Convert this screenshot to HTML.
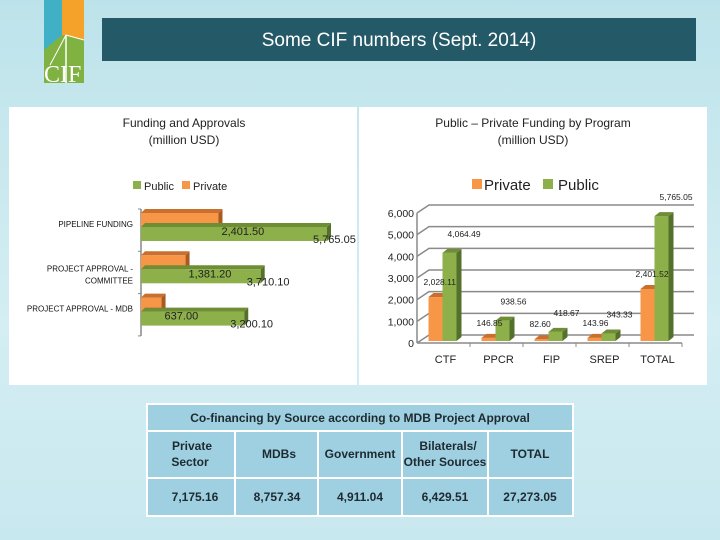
<!DOCTYPE html>
<html><head><meta charset="utf-8"><style>
html,body{margin:0;padding:0;width:720px;height:540px;overflow:hidden;font-family:"Liberation Sans",sans-serif;}
body{background:linear-gradient(#bde3ea,#d4eef3 60%,#c8e8ef);}
</style></head><body>
<svg id="s" width="720" height="540" xmlns="http://www.w3.org/2000/svg" style="position:absolute;left:0;top:0">
<g>
<rect x="44" y="0" width="40" height="83" fill="#7fb240"/>
<polygon points="44,0 62,0 62,35 44,50" fill="#3fb0c6"/>
<polygon points="62,0 84,0 84,40 62,35" fill="#f4a22a"/>
<line x1="66" y1="35" x2="66" y2="83" stroke="#fff" stroke-width="1.5"/>
<line x1="66" y1="35" x2="50" y2="65" stroke="#fff" stroke-width="1"/>
<line x1="66" y1="35" x2="84" y2="40" stroke="#fff" stroke-width="1"/>
<text x="44" y="82" font-family="Liberation Serif" font-size="24" fill="#fff">CIF</text>
</g>
<rect x="102" y="18" width="594" height="43" fill="#245a68"/>
<text x="399" y="46" text-anchor="middle" font-size="19" fill="#fff">Some CIF numbers (Sept. 2014)</text>
<rect x="9" y="107" width="348" height="278" fill="#fff"/>
<rect x="359" y="107" width="348" height="278" fill="#fff"/>
<text x="184" y="127" text-anchor="middle" font-size="12" fill="#222"><tspan x="184">Funding and Approvals</tspan><tspan x="184" dy="17">(million USD)</tspan></text>
<text x="533" y="127" text-anchor="middle" font-size="12" fill="#222"><tspan x="533">Public – Private Funding by Program</tspan><tspan x="533" dy="17">(million USD)</tspan></text>
<g>
<rect x="133" y="181" width="8" height="8" fill="#8db04a"/><text x="144" y="190" font-size="11" fill="#222">Public</text>
<rect x="182" y="181" width="8" height="8" fill="#f79646"/><text x="193" y="190" font-size="11" fill="#222">Private</text>
</g>
<g>
<rect x="472" y="179" width="10" height="10" fill="#f79646"/><text x="484" y="190" font-size="15" fill="#222">Private</text>
<rect x="543" y="179" width="10" height="10" fill="#8db04a"/><text x="558" y="190" font-size="15" fill="#222">Public</text>
</g>
<g id="left"></g>
<g id="right"></g>
<g>
<rect x="147" y="404" width="426" height="112" fill="#9fd0e1" stroke="#fff" stroke-width="2"/>
<line x1="147" y1="431" x2="573" y2="431" stroke="#fff" stroke-width="2"/>
<line x1="147" y1="478" x2="573" y2="478" stroke="#fff" stroke-width="2"/>
<line x1="235" y1="431" x2="235" y2="516" stroke="#fff" stroke-width="2"/>
<line x1="318" y1="431" x2="318" y2="516" stroke="#fff" stroke-width="2"/>
<line x1="402" y1="431" x2="402" y2="516" stroke="#fff" stroke-width="2"/>
<line x1="488" y1="431" x2="488" y2="516" stroke="#fff" stroke-width="2"/>
<g font-size="12" font-weight="bold" fill="#1e2a30" text-anchor="middle">
<text x="360" y="422">Co-financing by Source according to MDB Project Approval</text>
<text x="192" y="450"><tspan x="192">Private</tspan><tspan x="190" dy="16">Sector</tspan></text>
<text x="279" y="458">MDBs</text>
<text x="360" y="458">Government</text>
<text x="445" y="450"><tspan x="448">Bilaterals/</tspan><tspan x="445" dy="16">Other Sources</tspan></text>
<text x="530" y="458">TOTAL</text>
<text x="195" y="501">7,175.16</text>
<text x="277" y="501">8,757.34</text>
<text x="360" y="501">4,911.04</text>
<text x="445" y="501">6,429.51</text>
<text x="530" y="501">27,273.05</text>
</g>
</g>
</svg>
<script>
const NS="http://www.w3.org/2000/svg";
const leftCats=["PIPELINE FUNDING","PROJECT APPROVAL -|COMMITTEE","PROJECT APPROVAL - MDB"];
const leftPrivate=[2401.50,1381.20,637.00];
const leftPublic=[5765.05,3710.10,3200.10];
const leftPrivateLbl=["2,401.50","1,381.20","637.00"];
const leftPublicLbl=["5,765.05","3,710.10","3,200.10"];
const rightCats=["CTF","PPCR","FIP","SREP","TOTAL"];
const rightPrivate=[2028.11,146.85,82.60,143.96,2401.52];
const rightPublic=[4064.49,938.56,418.67,343.33,5765.05];
const rightPrivateLbl=["2,028.11","146.85","82.60","143.96","2,401.52"];
const rightPublicLbl=["4,064.49","938.56","418.67","343.33","5,765.05"];
const rightTicks=[0,1000,2000,3000,4000,5000,6000];
const rightTickLbl=["0","1,000","2,000","3,000","4,000","5,000","6,000"];
function mk(p,t,a){const e=document.createElementNS(NS,t);for(const k in a)e.setAttribute(k,a[k]);p.appendChild(e);return e;}
function bar3d(p,x,y,w,h,dx,dy,front,side,top){
 mk(p,"rect",{x:x,y:y,width:w,height:h,fill:front});
 mk(p,"polygon",{points:`${x+w},${y} ${x+w+dx},${y-dy} ${x+w+dx},${y+h-dy} ${x+w},${y+h}`,fill:side});
 mk(p,"polygon",{points:`${x},${y} ${x+dx},${y-dy} ${x+w+dx},${y-dy} ${x+w},${y}`,fill:top});
}
// left chart
const L=document.getElementById("left");
const lx0=141, lscale=(327-141)/5765.05, ltop=209, lband=42.3;
const lx=v=>lx0+v*lscale;
mk(L,"line",{x1:lx0,y1:ltop,x2:lx0,y2:ltop+3*lband,stroke:"#888","stroke-width":1.5});
leftCats.forEach((c,i)=>{
 const g0=ltop+i*lband;
 const tk=mk(L,"line",{x1:lx0-3,y1:g0,x2:lx0,y2:g0,stroke:"#888"});
 const g=mk(L,"g",{});
 
 
 bar3d(g,lx0,g0+4,lx(leftPrivate[i])-lx0,14,4,4,"#f79646","#a85a22","#c9702e");
 bar3d(g,lx0,g0+18,lx(leftPublic[i])-lx0,14,4,4,"#8db04a","#55702a","#6f8d35");
 const parts=c.split("|");
 const t=mk(L,"text",{x:lx0-8,y:g0+(parts.length>1?20:18),"text-anchor":"end","font-size":"8",fill:"#111"});
 
 
 parts.forEach((s,j)=>{const ts=mk(t,"tspan",{x:lx0-8,dy:j?12:0});ts.textContent=s;});
 const a=mk(L,"text",{x:lx(leftPrivate[i])+3,y:g0+26,"font-size":"11",fill:"#222"});a.textContent=leftPrivateLbl[i];
 
 
 const b=mk(L,"text",{x:lx(leftPublic[i])-14,y:g0+34,"font-size":"11",fill:"#222"});b.textContent=leftPublicLbl[i];
 
 
});
mk(L,"line",{x1:lx0-3,y1:ltop+3*lband,x2:lx0,y2:ltop+3*lband,stroke:"#888"});
// right chart
const R=document.getElementById("right");
const ry0=343, rscale=130/6000, rx0=417, rx1=682, rdx=12, rdy=8;
const ry=v=>ry0-v*rscale;
const band=(rx1-rx0)/rightCats.length;
const rcx=i=>rx0+band*(i+0.5);
rightTicks.forEach((t,i)=>{
 mk(R,"polyline",{points:`${rx0},${ry(t)} ${rx0+rdx},${ry(t)-rdy} ${rx1+rdx},${ry(t)-rdy}`,fill:"none",stroke:"#8a8a8a","stroke-width":1.5});
 const l=mk(R,"text",{x:rx0-3,y:ry(t)+4,"text-anchor":"end","font-size":"10.5",fill:"#222"});l.textContent=rightTickLbl[i];
 
 
});
mk(R,"line",{x1:rx0,y1:ry0,x2:rx0,y2:ry(6000),stroke:"#8a8a8a","stroke-width":1.5});
mk(R,"line",{x1:rx0,y1:ry0,x2:rx1,y2:ry0,stroke:"#8a8a8a","stroke-width":1.5});
rightCats.forEach((c,i)=>{
 const cx=rcx(i);
 mk(R,"line",{x1:rx0+band*(i+1),y1:ry0,x2:rx0+band*(i+1),y2:ry0+4,stroke:"#8a8a8a"});
 const g=mk(R,"g",{});
 
 
 const bw=14;
 bar3d(g,cx-bw-1,ry(rightPrivate[i])-2,bw,ry0-ry(rightPrivate[i])+2-2,5,4,"#f79646","#a85a22","#c9702e");
 bar3d(g,cx-1,ry(rightPublic[i])-2,bw,ry0-ry(rightPublic[i])+2-2,5,4,"#8db04a","#55702a","#6f8d35");
 const t=mk(R,"text",{x:cx+2,y:ry0+20,"text-anchor":"middle","font-size":"11",fill:"#222"});t.textContent=c;
 
 
 const a=mk(R,"text",{x:cx-20,y:ry(rightPrivate[i])-14,"font-size":"8.5",fill:"#222"});a.textContent=rightPrivateLbl[i];
 
 
 const b=mk(R,"text",{x:cx+4,y:ry(rightPublic[i])-18,"font-size":"8.5",fill:"#222"});b.textContent=rightPublicLbl[i];
 
 
});
</script>
</body></html>
